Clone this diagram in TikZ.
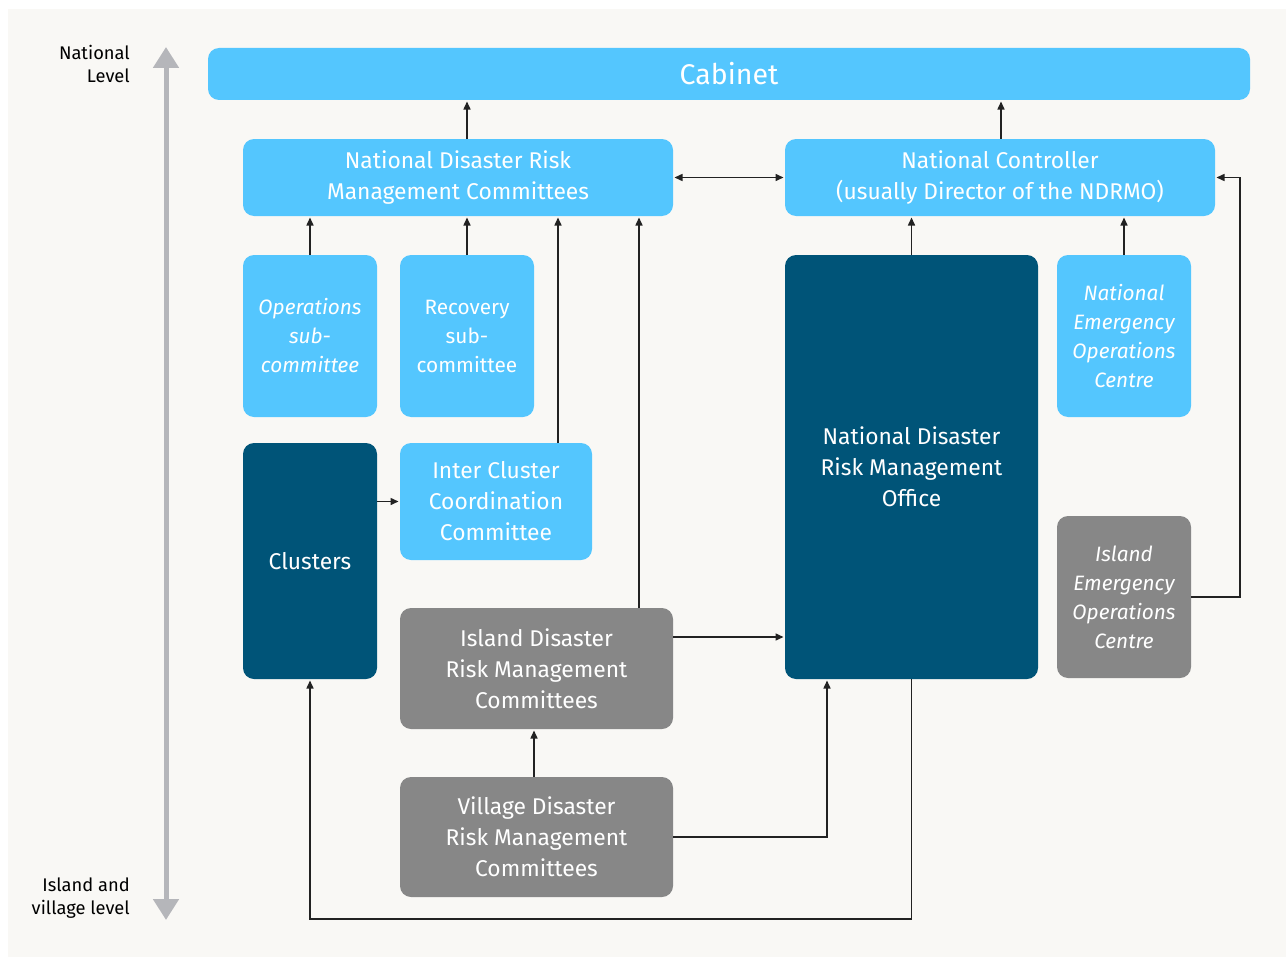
\documentclass[tikz,border=0pt]{standalone}
\usepackage{fontspec}
\setmainfont{Fira Sans}
\usetikzlibrary{arrows.meta}
\definecolor{bg}{HTML}{F9F8F5}
\definecolor{lblue}{HTML}{54C6FE}
\definecolor{dteal}{HTML}{005478}
\definecolor{mgray}{HTML}{878787}
\definecolor{lvl}{HTML}{B5B6BA}
\definecolor{ink}{HTML}{222222}
\tikzset{
  box/.style={rounded corners=11pt, inner sep=0pt, outer sep=0pt, align=center, text=white},
  bluebox/.style={box, fill=lblue},
  darkbox/.style={box, fill=dteal},
  graybox/.style={box, fill=mgray},
  bigtxt/.style={font=\fontsize{22.8}{31}\selectfont},
  smalltxt/.style={font=\fontsize{20.8}{29}\selectfont},
  arr/.style={draw=ink, line width=1.5pt, -{Triangle[length=8pt,width=7pt]}, shorten >=1.5pt},
  darr/.style={draw=ink, line width=1.5pt, {Triangle[length=8pt,width=7pt]}-{Triangle[length=8pt,width=7pt]}, shorten >=1.5pt, shorten <=1.5pt},
  lvlarrow/.style={draw=lvl, line width=5pt, {Triangle[length=21pt,width=25pt]}-{Triangle[length=21pt,width=25pt]}},
  lvltxt/.style={font=\fontsize{18.3}{23}\selectfont, align=right, text=black, inner sep=0pt}
}
\begin{document}
\begin{tikzpicture}[x=1pt,y=-1pt]
\useasboundingbox (0,0) rectangle (1286,958);
\fill[white] (0,0) rectangle (1286,958);
\fill[bg] (8,9) rectangle (1286,957);

% level indicator
\coordinate (ltop) at (166,47);
\coordinate (lbot) at (166,920);
\draw[lvlarrow] (ltop) -- (lbot);
\node[lvltxt, anchor=north east] (natl) at (130,45) {National\\Level};
\node[lvltxt, anchor=north east] (isl) at (130,878) {Island and\\village level};

% nodes
\node[bluebox, minimum width=1042pt, minimum height=52pt, font=\fontsize{28.5}{30}\selectfont] (cab) at (729,74) {\raisebox{-2pt}{Cabinet}};
\node[bluebox, bigtxt, minimum width=430pt, minimum height=77pt] (ndrmc) at (458,177.5) {National Disaster Risk\\Management Committees};
\node[bluebox, bigtxt, minimum width=430pt, minimum height=77pt] (nc) at (1000,177.5) {National Controller\\(usually Director of the NDRMO)};
\node[bluebox, smalltxt, minimum width=134pt, minimum height=162pt] (ops) at (310,336) {\itshape Operations\\\itshape sub-\\\itshape committee};
\node[bluebox, smalltxt, minimum width=134pt, minimum height=162pt] (rec) at (467,336) {Recovery\\sub-\\committee};
\node[bluebox, smalltxt, minimum width=134pt, minimum height=162pt] (neoc) at (1124,336) {\itshape National\\\itshape Emergency\\\itshape Operations\\\itshape Centre};
\node[darkbox, bigtxt, minimum width=253pt, minimum height=424pt] (ndrmo) at (911.5,467) {National Disaster\\Risk Management\\Office};
\node[darkbox, bigtxt, minimum width=134pt, minimum height=236pt] (clus) at (310,561) {Clusters};
\node[bluebox, bigtxt, minimum width=192pt, minimum height=117pt] (icc) at (496,501.5) {Inter Cluster\\Coordination\\Committee};
\node[graybox, bigtxt, minimum width=273pt, minimum height=121pt] (idrmc) at (536.5,668.5) {Island Disaster\\Risk Management\\Committees};
\node[graybox, bigtxt, minimum width=273pt, minimum height=120pt] (vdrmc) at (536.5,837) {Village Disaster\\Risk Management\\Committees};
\node[graybox, smalltxt, minimum width=134pt, minimum height=162pt] (ieoc) at (1124,597) {\itshape Island\\\itshape Emergency\\\itshape Operations\\\itshape Centre};

% connectors
\draw[arr] (467,0 |- ndrmc.north) -- (467,0 |- cab.south);
\draw[arr] (1001,0 |- nc.north) -- (1001,0 |- cab.south);
\draw[darr] (ndrmc.east) -- (nc.west);
\draw[arr] (ops.north) -- (ops.north |- ndrmc.south);
\draw[arr] (rec.north) -- (rec.north |- ndrmc.south);
\draw[arr] (558,0 |- icc.north) -- (558,0 |- ndrmc.south);
\draw[arr] (639,0 |- idrmc.north) -- (639,0 |- ndrmc.south);
\draw[arr] (ndrmo.north) -- (ndrmo.north |- nc.south);
\draw[arr] (neoc.north) -- (neoc.north |- nc.south);
\draw[arr] (clus.east |- icc.west) -- (icc.west);
\draw[arr] (idrmc.east |- 0,637) -- (ndrmo.west |- 0,637);
\draw[arr] (534,0 |- vdrmc.north) -- (534,0 |- idrmc.south);
\draw[arr] (vdrmc.east) -| (827,0 |- ndrmo.south);
\draw[arr] (ndrmo.south) -- (911.5,919) -| (clus.south);
\draw[arr] (ieoc.east) -| (1240,177.5) -- (nc.east);
\end{tikzpicture}
\end{document}
